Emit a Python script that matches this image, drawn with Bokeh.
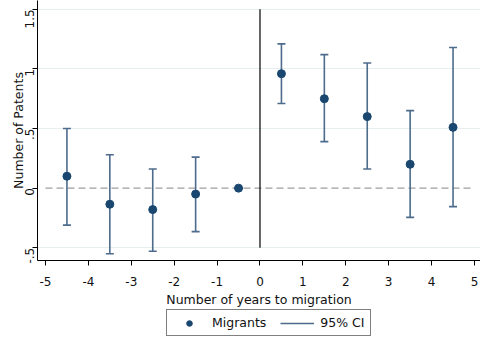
from bokeh.plotting import figure
from bokeh.models import Range1d, FixedTicker, Legend, LegendItem, ColumnDataSource
from bokeh.layouts import column
from bokeh.embed import file_html
from bokeh.resources import INLINE
import math

# ---- data ----
years = [-4.5, -3.5, -2.5, -1.5, -0.5, 0.5, 1.5, 2.5, 3.5, 4.5]
coef = [0.10, -0.135, -0.18, -0.05, 0.0, 0.96, 0.75, 0.60, 0.20, 0.51]
ci_low = [-0.31, -0.55, -0.53, -0.365, 0.0, 0.71, 0.39, 0.16, -0.245, -0.155]
ci_high = [0.50, 0.28, 0.16, 0.26, 0.0, 1.21, 1.12, 1.05, 0.65, 1.18]

x_ticks = [-5, -4, -3, -2, -1, 0, 1, 2, 3, 4, 5]
x_tick_labels = {-5: "-5", -4: "-4", -3: "-3", -2: "-2", -1: "-1", 0: "0",
                 1: "1", 2: "2", 3: "3", 4: "4", 5: "5"}
y_ticks = [-0.5, 0, 0.5, 1, 1.5]
y_tick_labels = {-0.5: "-.5", 0: "0", 0.5: ".5", 1: "1", 1.5: "1.5"}

ref_vline_x = [0]
ref_vline_y0 = [-0.5]
ref_vline_y1 = [1.5]
ref_hline_y = [0]
ref_hline_x0 = [-5]
ref_hline_x1 = [5]

# ---- styles ----
NAVY = "#1a476f"
CI_COL = "#4d6b8c"
FONT = "DejaVu Sans"

src = ColumnDataSource(dict(x=years, y=coef, lo=ci_low, hi=ci_high))

p = figure(width=480, height=309, output_backend="svg", toolbar_location=None,
           x_range=Range1d(-5.186, 5.14), y_range=Range1d(-0.607, 1.574),
           min_border_left=37, min_border_right=0, min_border_top=0, min_border_bottom=43,
           background_fill_color="white", border_fill_color="white")
p.outline_line_color = None

# grid
p.xgrid.visible = False
p.ygrid.ticker = FixedTicker(ticks=[-0.5, 0.5, 1, 1.5])
p.ygrid.grid_line_color = "#e6eef0"
p.ygrid.grid_line_width = 1

# reference lines
p.segment(x0=ref_hline_x0, x1=ref_hline_x1, y0=ref_hline_y, y1=ref_hline_y,
          line_color="#9e9e9e", line_width=1.4, line_dash="7 4")
p.segment(x0=ref_vline_x, x1=ref_vline_x, y0=ref_vline_y0, y1=ref_vline_y1,
          line_color="black", line_width=1.2)

# CI
p.segment(x0="x", x1="x", y0="lo", y1="hi", source=src,
          line_color=CI_COL, line_width=1.6)
p.scatter(x="x", y="lo", source=src, marker="dash", size=8,
          line_color=CI_COL, line_width=1.6)
p.scatter(x="x", y="hi", source=src, marker="dash", size=8,
          line_color=CI_COL, line_width=1.6)
p.scatter(x="x", y="y", source=src, marker="circle", size=8,
          fill_color=NAVY, line_color=NAVY)

# axes
p.xaxis.ticker = FixedTicker(ticks=x_ticks)
p.xaxis.major_label_overrides = x_tick_labels
p.yaxis.ticker = FixedTicker(ticks=y_ticks)
p.yaxis.major_label_overrides = y_tick_labels
p.yaxis.major_label_orientation = math.pi / 2
for ax in (p.xaxis[0], p.yaxis[0]):
    ax.axis_line_color = "black"
    ax.axis_line_width = 1
    ax.major_tick_line_color = "black"
    ax.major_tick_out = 5
    ax.major_tick_in = 0
    ax.minor_tick_line_color = None
    ax.major_label_text_font = FONT
    ax.major_label_text_font_size = "12px"
    ax.major_label_text_color = "#111111"
    ax.axis_label_text_font = FONT
    ax.axis_label_text_font_size = "12.5px"
    ax.axis_label_text_font_style = "normal"
    ax.axis_label_text_color = "#111111"
p.xaxis.axis_label = "Number of years to migration"
p.yaxis.axis_label = "Number of Patents"
p.xaxis.major_label_standoff = 11
p.xaxis.axis_label_standoff = 3
p.yaxis.major_label_standoff = 3
p.yaxis.axis_label_standoff = -8

# ---- legend strip (same data, drawn outside its view; only the key shows) ----
lg = figure(width=480, height=27, output_backend="svg", toolbar_location=None,
            x_range=Range1d(100, 101), y_range=Range1d(100, 101),
            x_axis_location=None, y_axis_location=None,
            min_border_left=0, min_border_right=0, min_border_top=0, min_border_bottom=0,
            background_fill_color="white", border_fill_color="white")
lg.outline_line_color = None
lg.grid.visible = False
lg_ci = lg.segment(x0="x", x1="x", y0="lo", y1="hi", source=src,
                   line_color=CI_COL, line_width=1.6)
lg_pts = lg.scatter(x="x", y="y", source=src, marker="circle", size=8,
                    fill_color=NAVY, line_color=NAVY)

legend = Legend(items=[LegendItem(label="Migrants", renderers=[lg_pts]),
                       LegendItem(label="95% CI", renderers=[lg_ci])],
                orientation="horizontal", location=(129, 0))
legend.label_text_font = FONT
legend.label_text_font_size = "12.5px"
legend.label_text_color = "#111111"
legend.border_line_color = "black"
legend.border_line_width = 1
legend.background_fill_color = "white"
legend.background_fill_alpha = 1
legend.inactive_fill_alpha = 0
legend.glyph_width = 34
legend.glyph_height = 14
legend.label_height = 14
legend.padding = 5
legend.spacing = 14
legend.label_standoff = 6
legend.margin = 0
lg.add_layout(legend, "center")

layout = column(p, lg, spacing=0)
open("out.html", "w").write(file_html(layout, INLINE))
